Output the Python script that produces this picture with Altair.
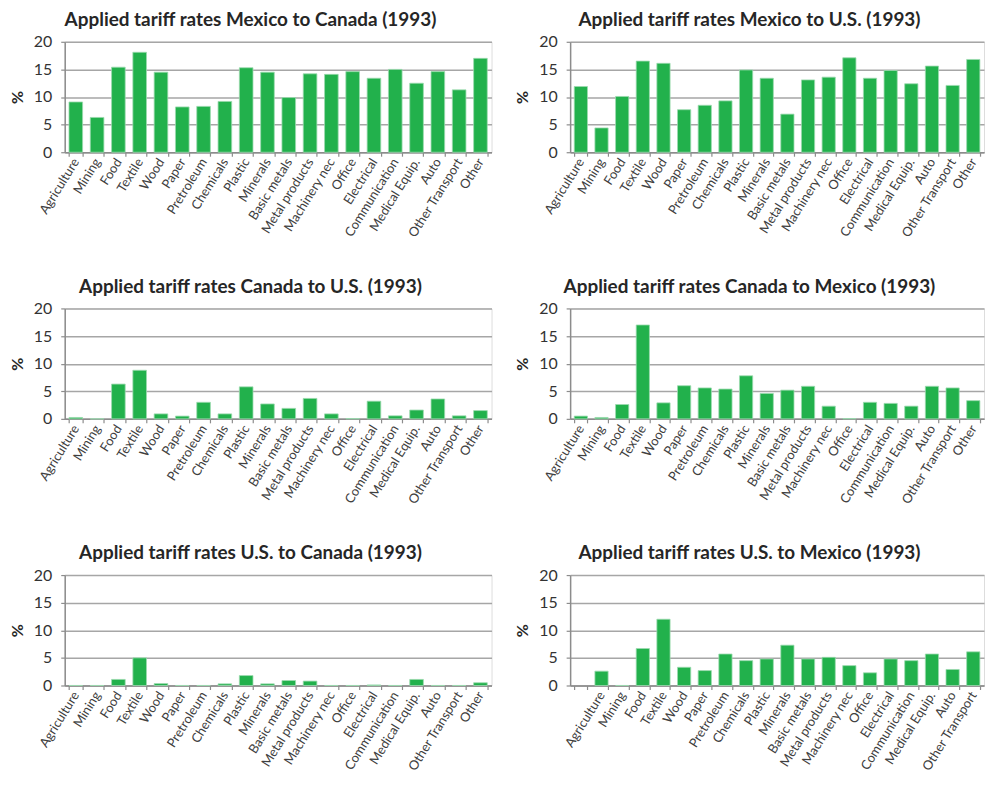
import altair as alt
import pandas as pd

categories = ["Agriculture", "Mining", "Food", "Textile", "Wood", "Paper",
              "Pretroleum", "Chemicals", "Plastic", "Minerals", "Basic metals",
              "Metal products", "Machinery nec", "Office", "Electrical",
              "Communication", "Medical Equip.", "Auto", "Other Transport", "Other"]

mexico_to_canada = [9.1, 6.3, 15.4, 18.1, 14.5, 8.2, 8.3, 9.2, 15.3, 14.5, 9.9,
                    14.2, 14.1, 14.6, 13.4, 15.0, 12.5, 14.6, 11.3, 17.0]
mexico_to_us = [11.9, 4.4, 10.1, 16.5, 16.1, 7.7, 8.5, 9.3, 14.9, 13.4, 6.9,
                13.1, 13.6, 17.1, 13.4, 14.8, 12.4, 15.6, 12.1, 16.8]
canada_to_us = [0.25, 0.0, 6.3, 8.8, 0.9, 0.5, 3.0, 0.9, 5.8, 2.7, 1.9,
                3.7, 0.9, 0.05, 3.2, 0.55, 1.6, 3.6, 0.55, 1.5]
canada_to_mexico = [0.5, 0.25, 2.6, 17.0, 2.9, 6.0, 5.6, 5.4, 7.8, 4.6, 5.2,
                    5.9, 2.3, 0.05, 3.0, 2.8, 2.3, 5.9, 5.6, 3.3]
us_to_canada = [0.0, 0.0, 1.1, 5.0, 0.35, 0.0, 0.0, 0.3, 1.8, 0.3, 0.9,
                0.8, 0.0, 0.0, 0.1, 0.0, 1.1, 0.0, 0.0, 0.5]
# in this panel the first slot is empty and the last sector is cut off
us_to_mexico_sectors = [" "] + categories[:19]
us_to_mexico = [None, 2.6, 0.0, 6.7, 12.0, 3.3, 2.7, 5.7, 4.5, 4.8, 7.3, 4.8,
                5.1, 3.6, 2.3, 4.8, 4.5, 5.7, 2.9, 6.1]

titles = ["Applied tariff rates Mexico to Canada (1993)",
          "Applied tariff rates Mexico to U.S. (1993)",
          "Applied tariff rates Canada to U.S. (1993)",
          "Applied tariff rates Canada to Mexico (1993)",
          "Applied tariff rates U.S. to Canada (1993)",
          "Applied tariff rates U.S. to Mexico (1993)"]

GREEN = "#22b14c"
FONT = "Lato"


def panel(title, sectors, values, width):
    df = pd.DataFrame({"sector": sectors, "rate": values}).dropna()
    return alt.Chart(df).mark_bar(
        color=GREEN, stroke="#9ddbb0", strokeWidth=0.8
    ).encode(
        x=alt.X("sector:N",
                scale=alt.Scale(domain=sectors, paddingInner=0.36, paddingOuter=0.2),
                axis=alt.Axis(title=None, labelAngle=-58, labelAlign="right",
                              labelBaseline="middle", tickBand="extent",
                              labelFontSize=13, labelFont=FONT, labelColor="#404040",
                              labelPadding=3, tickSize=4, tickColor="#8c8c8c",
                              tickWidth=1.2, domainColor="#8c8c8c", domainWidth=1.5,
                              grid=False)),
        y=alt.Y("rate:Q",
                scale=alt.Scale(domain=[0, 20], nice=False),
                axis=alt.Axis(values=[0, 5, 10, 15, 20], title="%",
                              titleFont=FONT, titleFontSize=16, titleFontWeight="bold",
                              titleColor="#262626", titlePadding=8,
                              labelFont=FONT, labelFontSize=16, labelColor="#333333",
                              labelPadding=9, tickSize=4, tickColor="#8c8c8c",
                              tickWidth=1.2, domainColor="#8c8c8c", domainWidth=1.5,
                              gridColor="#a6a6a6", gridWidth=1.5)),
    ).properties(
        width=width, height=111,
        title=alt.TitleParams(title, frame="bounds", anchor="middle", fontSize=19,
                              font=FONT, fontWeight="bold", color="#262626", offset=4),
    )


LW, RW = 429, 416
panels = [
    panel(titles[0], categories, mexico_to_canada, LW),
    panel(titles[1], categories, mexico_to_us, RW),
    panel(titles[2], categories, canada_to_us, LW),
    panel(titles[3], categories, canada_to_mexico, RW),
    panel(titles[4], categories, us_to_canada, LW),
    panel(titles[5], us_to_mexico_sectors, us_to_mexico, RW),
]

chart = alt.concat(*panels, columns=2, spacing={"row": 157, "column": 79},
                   bounds="flush").properties(
    padding={"left": 0, "top": 0, "right": 0, "bottom": 0}
).configure_view(stroke=None).configure(font=FONT)

chart.save("out.html", embed_options={"renderer": "svg", "actions": False})
